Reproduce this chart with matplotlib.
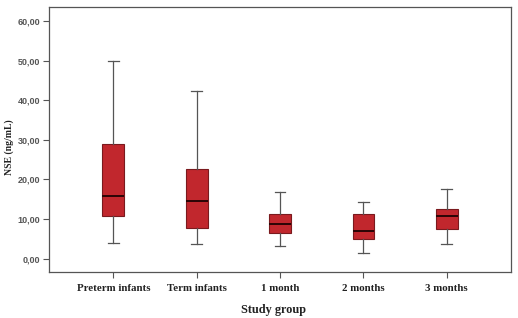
import matplotlib
matplotlib.use("Agg")
import matplotlib.pyplot as plt

# values (ng/mL)
groups = ["Preterm infants", "Term infants", "1 month", "2 months", "3 months"]
whislo = [4.1, 3.7, 3.3, 1.4, 3.7]
q1 = [10.9, 7.8, 6.4, 4.9, 7.6]
med = [15.9, 14.5, 8.8, 6.9, 10.9]
q3 = [28.9, 22.7, 11.3, 11.4, 12.6]
whishi = [50.0, 42.3, 16.8, 14.2, 17.6]
yticks = [0, 10, 20, 30, 40, 50, 60]

stats = []
for i, g in enumerate(groups):
    stats.append({"label": g, "whislo": whislo[i], "q1": q1[i], "med": med[i],
                  "q3": q3[i], "whishi": whishi[i], "fliers": []})

fig = plt.figure(figsize=(5.18, 3.18), dpi=100)
ax = fig.add_axes([0.094, 0.145, 0.8925, 0.833])

ax.bxp(stats, widths=0.26, patch_artist=True, showfliers=False,
       boxprops=dict(facecolor="#c1272d", edgecolor="#7a1a1e", linewidth=0.8),
       medianprops=dict(color="#2a0505", linewidth=1.4),
       whiskerprops=dict(color="#555555", linewidth=0.9),
       capprops=dict(color="#555555", linewidth=0.9),
       capwidths=0.13)

ax.set_xlim(0.225, 5.77)
ax.set_ylim(-3.3, 63.5)
ax.set_yticks(yticks)
ax.set_yticklabels(["%d,00" % v for v in yticks], fontsize=6.5, color="#555555",
                   family="Liberation Sans", fontweight="bold")
ax.set_xticks(range(1, 6))
ax.set_xticklabels(groups, fontsize=7.8, family="Liberation Serif", fontweight="bold",
                   color="#222222")
ax.tick_params(axis="both", direction="out", length=4, width=0.8, color="#555555", pad=2)
ax.tick_params(axis="x", pad=5)

for s in ax.spines.values():
    s.set_color("#555555")
    s.set_linewidth(0.9)

ax.set_ylabel("NSE (ng/mL)", fontsize=7, family="Liberation Serif",
              fontweight="bold", color="#222222")
ax.yaxis.set_label_coords(-0.074, 0.47)
ax.set_xlabel("Study group", fontsize=8.8, family="Liberation Serif",
              fontweight="bold", color="#222222")
ax.xaxis.set_label_coords(0.486, -0.122)

fig.savefig("out.png", dpi=100)
